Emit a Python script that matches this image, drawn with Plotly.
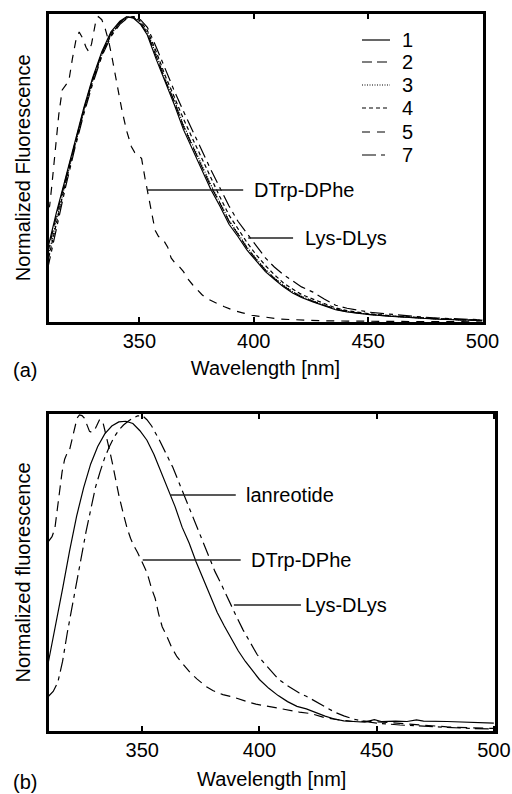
import plotly.graph_objects as go

# ---------------- Panel (a) data ----------------
wl_a = [309.8, 313.8, 317.7, 321.7, 325.7, 329.6, 333.6, 337.6, 341.5, 344.5, 347.5, 350.5, 353.5, 357.4, 361.4,
        365.4, 369.3, 373.3, 377.3, 381.2, 385.2, 389.2, 393.1, 397.1, 401.1, 405.1, 409.0, 413.0, 417.0, 420.9,
        425.9, 430.8, 435.8, 440.8, 450.7, 460.6, 470.5, 480.5, 490.4, 500.0]
a_curve1 = [0.235, 0.36, 0.47, 0.59, 0.70, 0.80, 0.885, 0.95, 0.985, 1.0, 0.995, 0.975, 0.94, 0.86, 0.785, 0.71,
            0.63, 0.565, 0.50, 0.435, 0.38, 0.32, 0.28, 0.235, 0.20, 0.165, 0.14, 0.115, 0.095, 0.08, 0.066, 0.052,
            0.04, 0.033, 0.024, 0.018, 0.013, 0.009, 0.007, 0.005]
a_curve2 = [0.22, 0.35, 0.465, 0.585, 0.695, 0.795, 0.88, 0.945, 0.982, 0.999, 0.997, 0.978, 0.945, 0.87, 0.79, 0.72,
            0.64, 0.575, 0.51, 0.445, 0.39, 0.33, 0.288, 0.242, 0.205, 0.17, 0.143, 0.118, 0.098, 0.083, 0.068, 0.054,
            0.042, 0.034, 0.025, 0.019, 0.014, 0.01, 0.007, 0.005]
a_curve3 = [0.20, 0.335, 0.455, 0.575, 0.69, 0.79, 0.875, 0.942, 0.98, 0.998, 0.998, 0.98, 0.95, 0.875, 0.795, 0.725,
            0.645, 0.58, 0.515, 0.45, 0.392, 0.333, 0.29, 0.245, 0.207, 0.172, 0.145, 0.12, 0.10, 0.084, 0.069, 0.055,
            0.043, 0.035, 0.025, 0.019, 0.014, 0.01, 0.007, 0.005]
a_curve4 = [0.19, 0.33, 0.455, 0.575, 0.69, 0.79, 0.875, 0.94, 0.98, 0.996, 1.0, 0.985, 0.955, 0.885, 0.805, 0.735,
            0.665, 0.60, 0.535, 0.47, 0.41, 0.35, 0.305, 0.26, 0.22, 0.185, 0.155, 0.128, 0.108, 0.09, 0.075, 0.06,
            0.046, 0.037, 0.027, 0.02, 0.015, 0.011, 0.008, 0.006]
a_curve7 = [0.17, 0.31, 0.44, 0.565, 0.68, 0.78, 0.87, 0.935, 0.975, 0.994, 1.0, 0.99, 0.965, 0.90, 0.825, 0.755,
            0.69, 0.625, 0.56, 0.50, 0.44, 0.38, 0.33, 0.29, 0.25, 0.21, 0.18, 0.155, 0.135, 0.115, 0.098, 0.075,
            0.055, 0.045, 0.032, 0.024, 0.018, 0.013, 0.01, 0.007]

wl_a5 = [309.8, 310.8, 311.8, 313.3, 314.8, 316.3, 317.7, 319.2, 320.7, 322.2, 323.7, 325.2, 326.7, 327.9, 329.1,
         330.1, 331.1, 332.1, 333.6, 335.1, 336.6, 338.1, 339.6, 341.1, 342.5, 344.5, 346.5, 348.0, 349.5, 351.0,
         352.5, 354.0, 355.5, 356.9, 358.4, 360.4, 362.4, 363.9, 365.4, 367.4, 369.3, 371.3, 373.3, 375.3, 377.3,
         379.2, 381.2, 384.2, 387.2, 391.2, 395.1, 399.1, 403.1, 407.0, 411.0, 416.0, 420.9, 430.8, 440.8, 450.7,
         460.6, 470.5, 480.5, 490.4, 500.0]
a_curve5 = [0.37, 0.38, 0.45, 0.56, 0.68, 0.76, 0.775, 0.79, 0.86, 0.92, 0.95, 0.93, 0.90, 0.885, 0.91, 0.95, 0.99,
            1.0, 0.99, 0.96, 0.92, 0.865, 0.80, 0.745, 0.69, 0.625, 0.575, 0.555, 0.548, 0.535, 0.47, 0.41, 0.35,
            0.30, 0.28, 0.27, 0.245, 0.21, 0.195, 0.182, 0.165, 0.14, 0.122, 0.105, 0.09, 0.078, 0.07, 0.06, 0.05,
            0.038, 0.03, 0.022, 0.018, 0.014, 0.01, 0.008, 0.006, 0.004, 0.003, 0.002, 0.002, 0.001, 0.001, 0.001, 0.0]

# ---------------- Panel (b) data ----------------
wl_b_lan = [310, 313, 316, 319, 322, 325, 328, 331, 334, 337, 340, 343, 346, 349, 352, 355, 358, 361, 364, 367, 370,
            373, 376, 379, 382, 385, 388, 391, 394, 397, 400, 404, 408, 412, 416, 420, 424, 428, 432, 436, 440, 445,
            449, 452, 458, 463, 467, 470, 480, 490, 500]
b_lanreotide = [0.22, 0.33, 0.45, 0.57, 0.68, 0.77, 0.845, 0.90, 0.94, 0.965, 0.978, 0.98, 0.973, 0.95, 0.92, 0.875,
                0.82, 0.765, 0.71, 0.645, 0.595, 0.535, 0.48, 0.425, 0.375, 0.332, 0.29, 0.253, 0.22, 0.19, 0.163,
                0.135, 0.112, 0.093, 0.078, 0.07, 0.058, 0.047, 0.038, 0.032, 0.03, 0.028, 0.036, 0.03, 0.031, 0.03,
                0.035, 0.031, 0.03, 0.028, 0.025]

wl_b_lys = [310, 312, 314, 316, 318, 320, 322, 324, 326, 328, 330, 332, 334, 336, 338, 340, 342, 344, 346, 348, 350,
            352, 354, 357, 360, 363, 366, 369, 372, 375, 378, 381, 384, 387, 390, 393, 396, 399, 402, 405, 408, 411,
            414, 417, 420, 423, 426, 429, 432, 436, 440, 445, 450, 460, 470, 480, 490, 500]
b_lysdlys = [0.11, 0.125, 0.155, 0.22, 0.31, 0.39, 0.47, 0.555, 0.63, 0.70, 0.77, 0.82, 0.865, 0.90, 0.93, 0.952,
             0.968, 0.98, 0.99, 0.997, 0.998, 0.985, 0.965, 0.925, 0.88, 0.835, 0.78, 0.725, 0.675, 0.62, 0.56, 0.505,
             0.46, 0.41, 0.365, 0.32, 0.28, 0.242, 0.215, 0.19, 0.165, 0.148, 0.133, 0.12, 0.11, 0.098, 0.085, 0.072,
             0.06, 0.048, 0.038, 0.03, 0.025, 0.019, 0.015, 0.011, 0.008, 0.006]

wl_b_dtrp = [310, 311.5, 312.7, 313.8, 314.8, 315.8, 316.9, 318, 319, 320, 321.1, 322.2, 323.2, 324.3, 325.3, 326.5,
             327.5, 328.5, 329.5, 330.5, 331.7, 333, 334.5, 336, 337.3, 338.7, 340.1, 342, 343.6, 345, 346.4, 348,
             349.3, 350.5, 352.1, 354, 355.5, 357, 358.5, 360.5, 362.5, 364.8, 367.4, 370.4, 373.3, 377.4, 380.1,
             384.4, 388.5, 391.5, 395, 398.5, 402, 405.5, 409, 412.6, 417, 422, 428, 434, 440, 445, 449, 455, 460,
             470, 480, 490, 500]
b_dtrpdphe = [0.60, 0.615, 0.64, 0.70, 0.765, 0.82, 0.86, 0.88, 0.89, 0.92, 0.962, 0.99, 1.0, 0.998, 0.99, 0.965,
              0.948, 0.945, 0.95, 0.965, 0.984, 0.984, 0.94, 0.89, 0.846, 0.79, 0.743, 0.685, 0.64, 0.61, 0.586,
              0.565, 0.545, 0.53, 0.50, 0.45, 0.42, 0.37, 0.33, 0.30, 0.265, 0.235, 0.21, 0.185, 0.165, 0.14, 0.128,
              0.115, 0.108, 0.10, 0.092, 0.085, 0.08, 0.075, 0.07, 0.064, 0.06, 0.055, 0.042, 0.035, 0.03, 0.031,
              0.03, 0.027, 0.024, 0.018, 0.013, 0.01, 0.008]

x_ticks = [350, 400, 450, 500]
FONT = "Arial, Liberation Sans, Helvetica, sans-serif"
FS = 20
LW = 1.2
W, H = 512, 794

fig = go.Figure()

styles_a = [
    ("1", a_curve1, wl_a, "solid"),
    ("2", a_curve2, wl_a, "10px,5px"),
    ("3", a_curve3, wl_a, "1px,1.5px"),
    ("4", a_curve4, wl_a, "4px,3px"),
    ("5", a_curve5, wl_a5, "8px,7px"),
    ("7", a_curve7, wl_a, "14px,5px,4px,5px"),
]
for name, ys, xs, dash in styles_a:
    fig.add_trace(go.Scatter(x=xs, y=ys, mode="lines", name=name, xaxis="x", yaxis="y",
                             line=dict(color="black", width=LW, dash=dash), showlegend=False))

fig.add_trace(go.Scatter(x=wl_b_lan, y=b_lanreotide, mode="lines", name="lanreotide", xaxis="x2", yaxis="y2",
                         line=dict(color="black", width=LW), showlegend=False))
fig.add_trace(go.Scatter(x=wl_b_dtrp, y=b_dtrpdphe, mode="lines", name="DTrp-DPhe", xaxis="x2", yaxis="y2",
                         line=dict(color="black", width=LW, dash="10px,6px"), showlegend=False))
fig.add_trace(go.Scatter(x=wl_b_lys, y=b_lysdlys, mode="lines", name="Lys-DLys", xaxis="x2", yaxis="y2",
                         line=dict(color="black", width=LW, dash="14px,5px,4px,5px"), showlegend=False))

xaxis_common = dict(showline=True, linecolor="black", linewidth=3.4, mirror="ticks", showgrid=False,
                    zeroline=False, ticks="inside", ticklen=5, tickwidth=2, tickcolor="black",
                    ticklabelstandoff=-1, automargin=False,
                    tickfont=dict(family=FONT, size=FS, color="black"))
yaxis_common = dict(showline=True, linecolor="black", linewidth=3.4, mirror=True, showgrid=False,
                    zeroline=False, ticks="", showticklabels=False, automargin=False)

fig.update_layout(
    width=W, height=H,
    margin=dict(l=0, r=0, t=0, b=0, autoexpand=False),
    paper_bgcolor="white", plot_bgcolor="white",
    font=dict(family=FONT, size=FS, color="black"),
    showlegend=False,
    xaxis=dict(domain=[48.5 / W, 482.5 / W], anchor="y", range=[310.3, 500], tickvals=x_ticks,
               title=dict(text="Wavelength [nm]", standoff=10, font=dict(size=FS)), **xaxis_common),
    yaxis=dict(domain=[1 - 322 / H, 1 - 13.6 / H], anchor="x", range=[0, 1.01],
               title=dict(text="Normalized Fluorescence", standoff=10, font=dict(size=FS)), **yaxis_common),
    xaxis2=dict(domain=[48.5 / W, 495 / W], anchor="y2", range=[310, 500.5], tickvals=x_ticks,
                title=dict(text="Wavelength [nm]", standoff=12, font=dict(size=FS)), **xaxis_common),
    yaxis2=dict(domain=[1 - 731 / H, 1 - 414 / H], anchor="x2", range=[0, 1.003],
                title=dict(text="Normalized fluorescence", standoff=10, font=dict(size=FS)), **yaxis_common),
)

# Manual legend for panel (a), built from the series list
legend_rows_px = [40, 62, 85, 108, 132, 155]
for (name, _, _, dash), ypx in zip(styles_a, legend_rows_px):
    yp = 1 - ypx / H
    fig.add_shape(type="line", xref="paper", yref="paper", x0=362 / W, x1=390 / W, y0=yp, y1=yp,
                  line=dict(color="black", width=LW, dash=dash))
    fig.add_annotation(xref="paper", yref="paper", x=400 / W, y=yp, text=name, showarrow=False,
                       xanchor="left", yanchor="middle", font=dict(family=FONT, size=FS, color="black"))

# Label leader lines (data coordinates)
leaders = [
    ("x", "y", 353.5, 395.4, 0.432, 399.3, "DTrp-DPhe"),
    ("x", "y", 397.6, 417.2, 0.275, 421.6, "Lys-DLys"),
    ("x2", "y2", 362.1, 389.9, 0.747, 393.3, "lanreotide"),
    ("x2", "y2", 350.2, 392.0, 0.541, 395.5, "DTrp-DPhe"),
    ("x2", "y2", 389.1, 417.7, 0.399, 418.5, "Lys-DLys"),
]
for xr, yr, x0, x1, yv, xt, txt in leaders:
    fig.add_shape(type="line", xref=xr, yref=yr, x0=x0, x1=x1, y0=yv, y1=yv,
                  line=dict(color="#222", width=1.5))
    fig.add_annotation(xref=xr, yref=yr, x=xt, y=yv, text=txt, showarrow=False, xanchor="left",
                       yanchor="middle", font=dict(family=FONT, size=FS, color="black"))

fig.add_annotation(xref="paper", yref="paper", x=11 / W, y=1 - 370 / H, text="(a)", showarrow=False,
                   xanchor="left", yanchor="middle", font=dict(family=FONT, size=FS))
fig.add_annotation(xref="paper", yref="paper", x=11 / W, y=1 - 782 / H, text="(b)", showarrow=False,
                   xanchor="left", yanchor="middle", font=dict(family=FONT, size=FS))

fig.write_html("out.html", config={"displayModeBar": False},
               post_script="document.body.style.margin='0';document.body.style.overflow='hidden';")
